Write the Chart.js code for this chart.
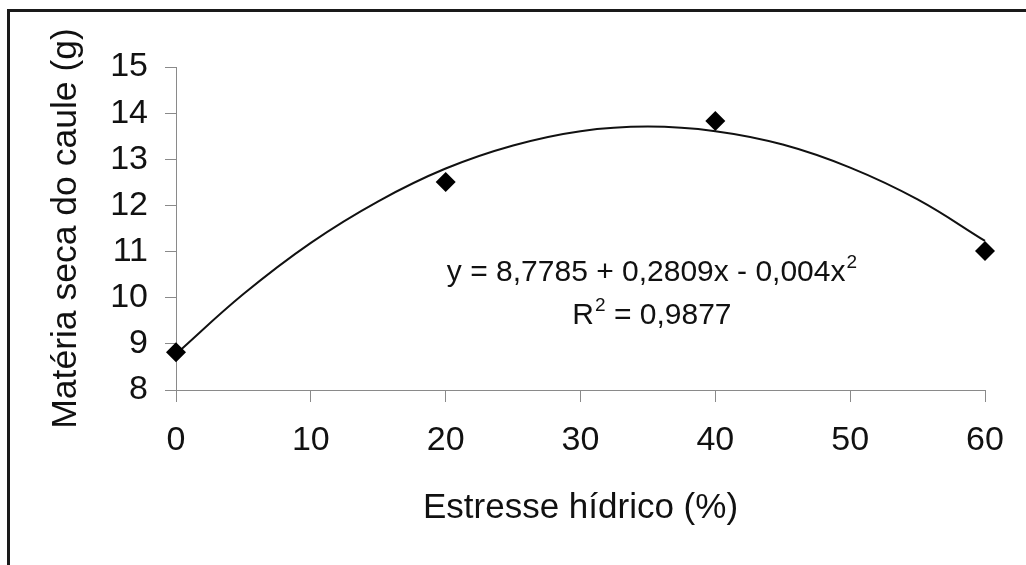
<!DOCTYPE html>
<html lang="pt">
<head>
<meta charset="utf-8">
<title>Matéria seca do caule</title>
<script src="https://cdn.jsdelivr.net/npm/chart.js@4.4.1/dist/chart.umd.min.js"></script>
<style>
    html, body {
        margin: 0;
        padding: 0;
        background: #ffffff;
        overflow: hidden;
    }
    #wrap {
        position: relative;
        width: 1026px;
        height: 565px;
        overflow: hidden;
    }
    #frame {
        position: absolute;
        left: 7px;
        top: 9px;
        width: 1100px;
        height: 700px;
        border: 3px solid #1a1a1a;
        pointer-events: none;
    }
    #stemChart {
        position: absolute;
        left: 0;
        top: 0;
    }
</style>
</head>
<body>
<div id="wrap">
    <canvas id="stemChart" width="1026" height="565"></canvas>
    <div id="frame"></div>
</div>
<script>
// Observed means: water stress (%) vs stem dry mass (g)
const stressLevels = [0, 20, 40, 60];
const stemDryMass = [8.82, 12.51, 13.83, 11.01];

// Fitted quadratic trend, every 5 %
const trendX = [0, 5, 10, 15, 20, 25, 30, 35, 40, 45, 50, 55, 60];
const trendY = [8.78, 10.08, 11.19, 12.09, 12.80, 13.30, 13.61, 13.71, 13.61, 13.32, 12.82, 12.13, 11.23];

// Axis ranges
const xTicks = [0, 10, 20, 30, 40, 50, 60];
const yTicks = [8, 9, 10, 11, 12, 13, 14, 15];

// Equation lines as [text, superscript] pieces
const fitLabel = [['y = 8,7785 + 0,2809x - 0,004x', '2']];
const r2Label = [['R', '2'], [' = 0,9877', '']];

const FONT = "'Liberation Sans', Arial, sans-serif";
const AXIS_GREY = '#8a8a8a';

// Writes a line made of normal text followed by raised smaller text
function drawSupLine(ctx, parts, cx, cy, size) {
    const base = size + 'px ' + FONT;
    const sup = Math.round(size * 0.62) + 'px ' + FONT;
    let total = 0;
    parts.forEach(([txt, s]) => {
        ctx.font = base;
        total += ctx.measureText(txt).width;
        ctx.font = sup;
        total += s ? ctx.measureText(s).width + 1 : 0;
    });
    let x = cx - total / 2;
    ctx.textAlign = 'left';
    ctx.textBaseline = 'middle';
    parts.forEach(([txt, s]) => {
        ctx.font = base;
        ctx.fillText(txt, x, cy);
        x += ctx.measureText(txt).width;
        if (s) {
            ctx.font = sup;
            ctx.fillText(s, x + 1, cy - size * 0.33);
            x += ctx.measureText(s).width + 1;
        }
    });
}

// Draws the regression equation inside the plot area
const equationPlugin = {
    id: 'equation',
    afterDatasetsDraw(chart) {
        const { ctx, scales } = chart;
        const cx = scales.x.getPixelForValue(35.3);
        ctx.save();
        ctx.fillStyle = '#111111';
        drawSupLine(ctx, fitLabel, cx, scales.y.getPixelForValue(10.55), 30);
        drawSupLine(ctx, r2Label, cx, scales.y.getPixelForValue(9.62), 30);
        ctx.restore();
    }
};

const toPoints = (xs, ys) => xs.map((x, i) => ({ x: x, y: ys[i] }));

new Chart(document.getElementById('stemChart'), {
    type: 'scatter',
    data: {
        datasets: [
            {
                label: 'Ajuste',
                data: toPoints(trendX, trendY),
                showLine: true,
                tension: 0.4,
                borderColor: '#111111',
                borderWidth: 2,
                pointRadius: 0,
                clip: false,
                order: 2
            },
            {
                label: 'Matéria seca do caule',
                data: toPoints(stressLevels, stemDryMass),
                pointStyle: 'rectRot',
                pointRadius: 10,
                backgroundColor: '#000000',
                borderColor: '#000000',
                borderWidth: 0,
                clip: false,
                order: 1
            }
        ]
    },
    options: {
        responsive: false,
        animation: false,
        layout: {
            padding: { top: 67, right: 41, bottom: 0, left: 0 }
        },
        plugins: {
            legend: { display: false },
            tooltip: { enabled: false }
        },
        scales: {
            x: {
                type: 'linear',
                min: xTicks[0],
                max: xTicks[xTicks.length - 1],
                afterBuildTicks: (scale) => {
                    scale.ticks = xTicks.map(v => ({ value: v }));
                },
                afterFit: (scale) => { scale.height = 175; },
                border: { display: true, color: AXIS_GREY, width: 1 },
                grid: {
                    drawOnChartArea: false,
                    drawTicks: true,
                    tickLength: 12,
                    color: AXIS_GREY
                },
                ticks: {
                    color: '#111111',
                    padding: 18,
                    maxRotation: 0,
                    font: { family: FONT, size: 34 }
                },
                title: {
                    display: true,
                    text: 'Estresse hídrico (%)',
                    color: '#111111',
                    padding: { top: 0, bottom: 36 },
                    font: { family: FONT, size: 35 }
                }
            },
            y: {
                type: 'linear',
                min: yTicks[0],
                max: yTicks[yTicks.length - 1],
                afterBuildTicks: (scale) => {
                    scale.ticks = yTicks.map(v => ({ value: v }));
                },
                afterFit: (scale) => { scale.width = 176; },
                border: { display: true, color: AXIS_GREY, width: 1 },
                grid: {
                    drawOnChartArea: false,
                    drawTicks: true,
                    tickLength: 11,
                    color: AXIS_GREY
                },
                ticks: {
                    color: '#111111',
                    padding: 17,
                    font: { family: FONT, size: 34 }
                },
                title: {
                    display: true,
                    text: 'Matéria seca do caule (g)',
                    color: '#111111',
                    padding: { top: 45, bottom: 0 },
                    font: { family: FONT, size: 35.5 }
                }
            }
        }
    },
    plugins: [equationPlugin]
});
</script>
</body>
</html>
